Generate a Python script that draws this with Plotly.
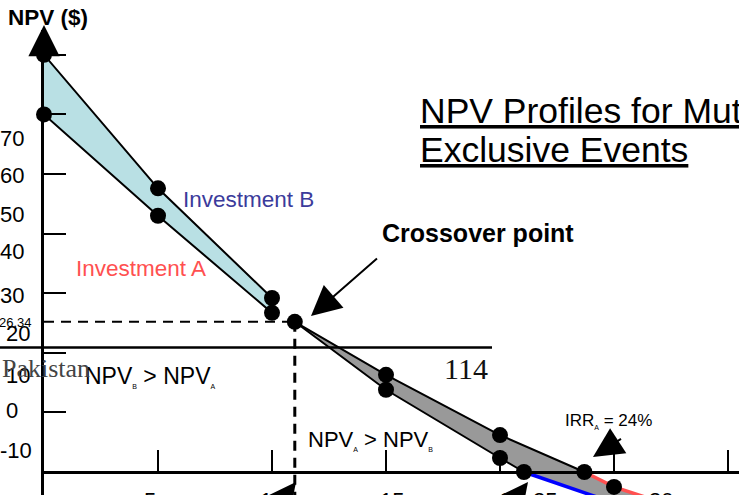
import plotly.graph_objects as go

# valori (tasso di sconto in %, NPV in $)
rates = [0, 5, 10, 15, 20]
npv_a = [60.0, 43.0, 26.7, 16.3, 6.2]
npv_b = [70.0, 47.6, 29.2, 13.8, 2.35]
crossover_rate = 11.0
crossover_npv = 25.2
crossover_label = "26.34"
irr_a = 23.7
irr_b = 21.05
a_tail_rates = [25, 27]
a_tail_npv = [-2.5, -5.0]
b_tail_rates = [26]
b_tail_npv = [-6.5]

ytick_vals = [10, 20, 30, 40, 50, 60, 70]
xtick_vals = [5, 10, 15, 20, 25, 30]
ytick_labels = ["70", "60", "50", "40", "30", "20", "10", "0", "-10"]
xtick_labels = ["5", "10", "15", "20", "25", "30"]

W, H = 739, 495
FONT = "Liberation Sans"
SERIF = "Liberation Serif"


def px(x, y):
    # pixel della pagina -> coordinate paper
    return x / W, 1 - y / H


# tratti prima e dopo il punto di incrocio
a_pre, b_pre = npv_a[:3], npv_b[:3]
a_post_r = [crossover_rate] + rates[3:] + [irr_a]
a_post_v = [crossover_npv] + npv_a[3:] + [0]
b_post_r = [crossover_rate] + rates[3:] + [irr_b]
b_post_v = [crossover_npv] + npv_b[3:] + [0]

fig = go.Figure()

# area azzurra (B > A)
fig.add_trace(go.Scatter(
    x=rates[:3] + rates[:3][::-1], y=b_pre + a_pre[::-1],
    fill="toself", fillcolor="#b9e0e4", mode="none", hoverinfo="skip"))

# area grigia (A > B)
fig.add_trace(go.Scatter(
    x=a_post_r + a_tail_rates + b_tail_rates + b_post_r[::-1],
    y=a_post_v + a_tail_npv + b_tail_npv + b_post_v[::-1],
    fill="toself", fillcolor="#999999", mode="none", hoverinfo="skip"))

# prolungamenti sotto lo zero
fig.add_trace(go.Scatter(x=[irr_a] + a_tail_rates, y=[0] + a_tail_npv, mode="lines",
                         line=dict(color="#ff5050", width=3.5), hoverinfo="skip"))
fig.add_trace(go.Scatter(x=[irr_b] + b_tail_rates, y=[0] + b_tail_npv, mode="lines",
                         line=dict(color="#0000ff", width=3.5), hoverinfo="skip"))

# bordi neri
for xs, ys in [(rates[:3], a_pre), (rates[:3], b_pre), (a_post_r, a_post_v), (b_post_r, b_post_v)]:
    fig.add_trace(go.Scatter(x=xs, y=ys, mode="lines", line=dict(color="black", width=2),
                             hoverinfo="skip"))

# linee tratteggiate del punto di incrocio
fig.add_trace(go.Scatter(x=[0, crossover_rate], y=[crossover_npv, crossover_npv], mode="lines",
                         line=dict(color="black", width=2, dash="10px,7px"), hoverinfo="skip"))
fig.add_trace(go.Scatter(x=[crossover_rate, crossover_rate], y=[crossover_npv, -10], mode="lines",
                         line=dict(color="black", width=3, dash="10px,7px"), hoverinfo="skip"))

# punti
dot_x = rates + rates + [crossover_rate, irr_a, irr_b, a_tail_rates[0]]
dot_y = npv_a + npv_b + [crossover_npv, 0, 0, a_tail_npv[0]]
fig.add_trace(go.Scatter(x=dot_x, y=dot_y, mode="markers",
                         marker=dict(size=16, color="black"), cliponaxis=False, hoverinfo="skip"))

ann = []


def testo(x, y, t, size, color="black", family=FONT, xanchor="center", yanchor="middle"):
    xx, yy = px(x, y)
    ann.append(dict(x=xx, y=yy, xref="paper", yref="paper", text=t, showarrow=False,
                    xanchor=xanchor, yanchor=yanchor,
                    font=dict(size=size, color=color, family=family)))


def freccia(x, y, ax, ay, width, size):
    xx, yy = px(x, y)
    ann.append(dict(x=xx, y=yy, xref="paper", yref="paper", text=" ", showarrow=True,
                    ax=ax, ay=ay, arrowhead=2, arrowwidth=width, arrowsize=size,
                    arrowcolor="black"))


# etichette assi
testo(48, 17, "<b>NPV ($)</b>", 22.5)
ylab_x = [12, 12, 12, 12, 12, 18, 18, 12, 16]
ylab_y = [138, 175, 214, 252, 295, 333, 375, 410, 450]
for t, x, y in zip(ytick_labels, ylab_x, ylab_y):
    testo(x, y, t, 22)
testo(34, 322, crossover_label, 13, xanchor="right")
xlab_x = [150, 272, 392, 512, 545, 661]
for t, x in zip(xtick_labels, xlab_x):
    testo(x, 500, t, 22)

# titolo
testo(418, 111, "<u>NPV Profiles for Mutually</u>", 35.5, xanchor="left")
testo(418, 150, "<u>Exclusive Events</u>", 35.5, xanchor="left")

testo(248, 200, "Investment B", 22.5, color="#3b3b9b")
testo(141, 268, "Investment A", 22.5, color="#ff5050")
testo(478, 233, "<b>Crossover point</b>", 25)

sub = '<sub><span style="font-size:7px">{}</span></sub>'
testo(150, 376, "NPV" + sub.format("B") + " > NPV" + sub.format("A"), 23)
testo(370, 440, "NPV" + sub.format("A") + " > NPV" + sub.format("B"), 22)
testo(608, 421, "IRR" + sub.format("A") + " = 24%", 17)

testo(46, 368, "Pakistan", 26, color="#444444", family=SERIF)
testo(466, 368, "114", 30, color="#111111", family=SERIF)

# frecce
freccia(44, 25, 0, 40, 2.5, 2.5)
freccia(311, 316, 69, -60, 2, 3.0)
freccia(593, 457, 31, -20, 2, 3.0)
freccia(296, 482, -10, 60, 2, 3.0)
freccia(528, 482, -10, 60, 2, 3.0)

fig.update_layout(
    width=W, height=H,
    margin=dict(l=0, r=0, t=0, b=0),
    paper_bgcolor="white", plot_bgcolor="white",
    showlegend=False,
    annotations=ann,
    shapes=[dict(type="line", xref="paper", yref="paper", x0=0, x1=492 / W,
                 y0=1 - 347.5 / H, y1=1 - 347.5 / H, line=dict(color="black", width=2.5))],
    xaxis=dict(domain=[44 / W, 1], range=[0, (W - 44) / 22.8], anchor="free", position=23 / H,
               showline=True, linecolor="black", linewidth=3, ticks="inside", ticklen=21,
               tickwidth=2, tickcolor="black", tickvals=xtick_vals, showticklabels=False,
               showgrid=False, zeroline=False),
    yaxis=dict(domain=[0, 1 - 30 / H], range=[-23 / 5.96, 442 / 5.96], anchor="x",
               showline=True, linecolor="black", linewidth=2.5, ticks="inside", ticklen=22,
               tickwidth=2, tickcolor="black", tickvals=ytick_vals, showticklabels=False,
               showgrid=False, zeroline=False),
)

# la pagina ha un margine di 8px: lo tolgo perche' la figura riempia la finestra
fig.write_html("out.html", config={"displayModeBar": False},
               post_script="document.body.style.margin='0';")
